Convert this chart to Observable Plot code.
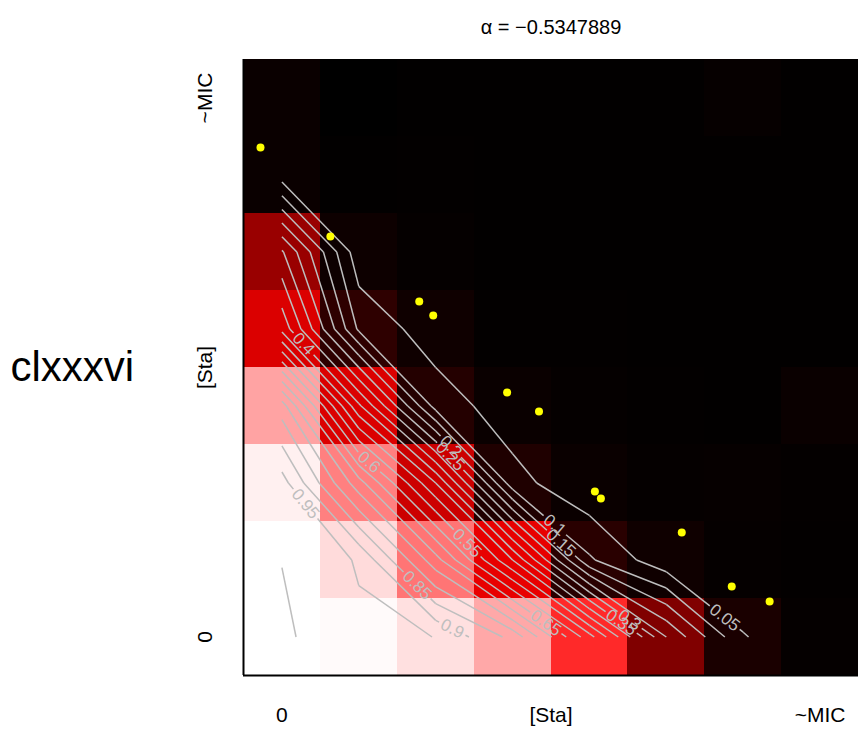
<!DOCTYPE html>
<html><head><meta charset="utf-8">
<script src="https://cdn.jsdelivr.net/npm/d3@7"></script>
<script src="https://cdn.jsdelivr.net/npm/@observablehq/plot@0.6"></script>
<style>body{margin:0;background:#fff;font-family:"Liberation Sans",Arial,sans-serif}</style>
</head><body><div id="chart"></div>
<script>
// ---- data ----
const title = "α = −0.5347889";
const rowLabel = "clxxxvi";
const tickPos = [0, 3.5, 7];
const tickLabels = ["0", "[Sta]", "~MIC"];

// observed response per cell, rows bottom (j=0) to top, columns left to right
const heat = [
  [1.00, 0.99, 0.94, 0.83, 0.58, 0.25, 0.05, 0.01],
  [1.00, 0.93, 0.73, 0.455, 0.08, 0.03, 0.01, 0.006],
  [0.97, 0.75, 0.40, 0.06, 0.02, 0.01, 0.012, 0.008],
  [0.82, 0.43, 0.07, 0.02, 0.01, 0.006, 0.004, 0.02],
  [0.43, 0.09, 0.03, 0.006, 0.006, 0.004, 0.004, 0.004],
  [0.30, 0.025, 0.01, 0.004, 0.004, 0.004, 0.004, 0.004],
  [0.02, 0.004, 0.006, 0.004, 0.004, 0.004, 0.004, 0.004],
  [0.02, 0.0, 0.004, 0.004, 0.004, 0.004, 0.012, 0.004]
];

// fitted surface at cell centres (used for contour lines)
const model = [
  [1.009, 0.96, 0.9495, 0.835, 0.57, 0.25, 0.053, 0.01],
  [0.999, 0.945, 0.72, 0.45, 0.107, 0.014, 0.005, 0.003],
  [0.971, 0.721, 0.45, 0.069, 0.0085, 0.004, 0.003, 0.002],
  [0.824, 0.41, 0.08, 0.019, 0.004, 0.003, 0.002, 0.002],
  [0.435, 0.091, 0.020, 0.004, 0.003, 0.002, 0.002, 0.002],
  [0.306, 0.017, 0.004, 0.003, 0.002, 0.002, 0.002, 0.002],
  [0.024, 0.005, 0.003, 0.002, 0.002, 0.002, 0.002, 0.002],
  [0.010, 0.003, 0.002, 0.002, 0.002, 0.002, 0.002, 0.002]
];
const levels = [0.05, 0.1, 0.15, 0.2, 0.25, 0.3, 0.35, 0.4, 0.45, 0.5,
                0.55, 0.6, 0.65, 0.7, 0.75, 0.8, 0.85, 0.9, 0.95, 1.0];

// contour labels: level, grid square (i,j) and fraction along the segment (from its left end)
const labelLevels = [0.05, 0.1, 0.15, 0.2, 0.25, 0.3, 0.35, 0.4, 0.55, 0.6, 0.65, 0.85, 0.9, 0.95];
const labelSquares = [[5,0],[3,1],[3,1],[2,2],[2,2],[4,0],[4,0],[0,3],[2,1],[1,2],[3,0],[1,0],[2,0],[0,1]];
const labelFrac = [0.76, 0.55, 0.72, 0.3, 0.36, 0.62, 0.6, 0.2, 0.65, 0.3, 0.62, 0.58, 0.5, 0.27];

// observed points (column units, row units)
const pointX = [-0.279, 0.630, 1.786, 1.968, 2.929, 3.344, 4.071, 4.149, 5.201, 5.851, 6.344];
const pointY = [6.357, 5.201, 4.357, 4.175, 3.175, 2.929, 1.890, 1.799, 1.357, 0.656, 0.461];

// ---- build ----
const nx = 8, ny = 8;
const cells = [];
heat.forEach((row, j) => row.forEach((v, i) => cells.push({i, j, v})));

const segs = [];
for (const L of levels) {
  for (let j = 0; j < ny - 1; j++) for (let i = 0; i < nx - 1; i++) {
    const za = model[j][i], zb = model[j][i+1], zc = model[j+1][i+1], zd = model[j+1][i];
    const pts = [];
    const edge = (z1, z2, x1, y1, x2, y2) => {
      if ((z1 >= L) !== (z2 >= L)) {
        const t = (L - z1) / (z2 - z1);
        pts.push([x1 + t * (x2 - x1), y1 + t * (y2 - y1)]);
      } else pts.push(null);
    };
    edge(za, zb, i, j, i+1, j);
    edge(zb, zc, i+1, j, i+1, j+1);
    edge(zd, zc, i, j+1, i+1, j+1);
    edge(za, zd, i, j, i, j+1);
    const add = (a, b) => segs.push(a[0] <= b[0] ? {L, i, j, p: a, q: b} : {L, i, j, p: b, q: a});
    const p = pts.filter(d => d);
    if (p.length === 2) add(p[0], p[1]);
    else if (p.length === 4) {
      const c = (za + zb + zc + zd) / 4;
      if ((za >= L) === (c >= L)) { add(pts[0], pts[1]); add(pts[2], pts[3]); }
      else { add(pts[3], pts[0]); add(pts[1], pts[2]); }
    }
  }
}

const K = 77; // px per unit (approx, both axes)
const FS = 17;
const labels = [];
labelLevels.forEach((L, k) => {
  const [i, j] = labelSquares[k];
  const s = segs.find(d => d.L === L && d.i === i && d.j === j);
  if (!s) return;
  const t = labelFrac[k];
  const x = s.p[0] + t * (s.q[0] - s.p[0]);
  const y = s.p[1] + t * (s.q[1] - s.p[1]);
  let ang = Math.atan2(-(s.q[1] - s.p[1]), s.q[0] - s.p[0]) * 180 / Math.PI;
  if (ang > 90) ang -= 180;
  if (ang <= -90) ang += 180;
  const text = String(L);
  labels.push({L, x, y, ang, text, r: (text.length * 0.5 * FS) / 2 + 2});
});

// cut gaps in lines where labels sit
const pieces = [];
for (const s of segs) {
  let intervals = [[0, 1]];
  for (const lb of labels.filter(d => d.L === s.L)) {
    const dx = (s.q[0] - s.p[0]) * K, dy = (s.q[1] - s.p[1]) * K;
    const fx = (s.p[0] - lb.x) * K, fy = (s.p[1] - lb.y) * K;
    const a = dx*dx + dy*dy, b = 2*(fx*dx + fy*dy), c = fx*fx + fy*fy - lb.r*lb.r;
    const disc = b*b - 4*a*c;
    if (a === 0 || disc <= 0) continue;
    const t1 = (-b - Math.sqrt(disc)) / (2*a), t2 = (-b + Math.sqrt(disc)) / (2*a);
    const next = [];
    for (const [u, v] of intervals) {
      if (t2 <= u || t1 >= v) { next.push([u, v]); continue; }
      if (t1 > u) next.push([u, t1]);
      if (t2 < v) next.push([t2, v]);
    }
    intervals = next;
  }
  for (const [u, v] of intervals) {
    pieces.push({
      x1: s.p[0] + u * (s.q[0] - s.p[0]), y1: s.p[1] + u * (s.q[1] - s.p[1]),
      x2: s.p[0] + v * (s.q[0] - s.p[0]), y2: s.p[1] + v * (s.q[1] - s.p[1])
    });
  }
}

const points = pointX.map((x, k) => ({x, y: pointY[k]}));

const chart = Plot.plot({
  width: 858, height: 730,
  marginLeft: 243, marginRight: 0, marginTop: 59, marginBottom: 55,
  x: {domain: [-0.5, 7.5], axis: null},
  y: {domain: [-0.5, 7.5], axis: null},
  color: {type: "linear", domain: [0, 0.5, 1], range: ["#000000", "#ff0000", "#ffffff"], interpolate: "rgb"},
  style: {fontFamily: "'Liberation Sans', Arial, sans-serif", background: "white", color: "black"},
  marks: [
    Plot.rect(cells, {x1: d => d.i - 0.5, x2: d => d.i + 0.5, y1: d => d.j - 0.5, y2: d => d.j + 0.5,
      fill: "v", shapeRendering: "crispEdges"}),
    Plot.link(pieces, {x1: "x1", y1: "y1", x2: "x2", y2: "y2", stroke: "#bebebe", strokeWidth: 1.5}),
    Plot.text(labels, {x: "x", y: "y", text: "text", rotate: "ang", fill: "#bebebe", fontSize: FS,
      textAnchor: "middle", lineAnchor: "middle"}),
    Plot.dot(points, {x: "x", y: "y", r: 4, fill: "#ffff00", stroke: null}),
    Plot.ruleX([-0.5], {stroke: "black", strokeWidth: 2}),
    Plot.ruleY([-0.5], {stroke: "black", strokeWidth: 2}),
    Plot.text(tickPos, {x: d => d, frameAnchor: "bottom", dy: 40, text: (d, k) => tickLabels[k],
      fontSize: 21, fill: "black", lineAnchor: "middle"}),
    Plot.text(tickPos, {y: d => d, frameAnchor: "left", dx: -38, rotate: -90, text: (d, k) => tickLabels[k],
      fontSize: 21, fill: "black", textAnchor: "middle", lineAnchor: "middle"}),
    Plot.text([title], {frameAnchor: "top", dy: -32, text: d => d, fontSize: 20, fill: "black", lineAnchor: "middle"}),
    Plot.text([rowLabel], {frameAnchor: "left", dx: -233, text: d => d, fontSize: 42, fill: "black",
      textAnchor: "start", lineAnchor: "middle"})
  ]
});
document.getElementById("chart").appendChild(chart);
</script>
</body></html>
